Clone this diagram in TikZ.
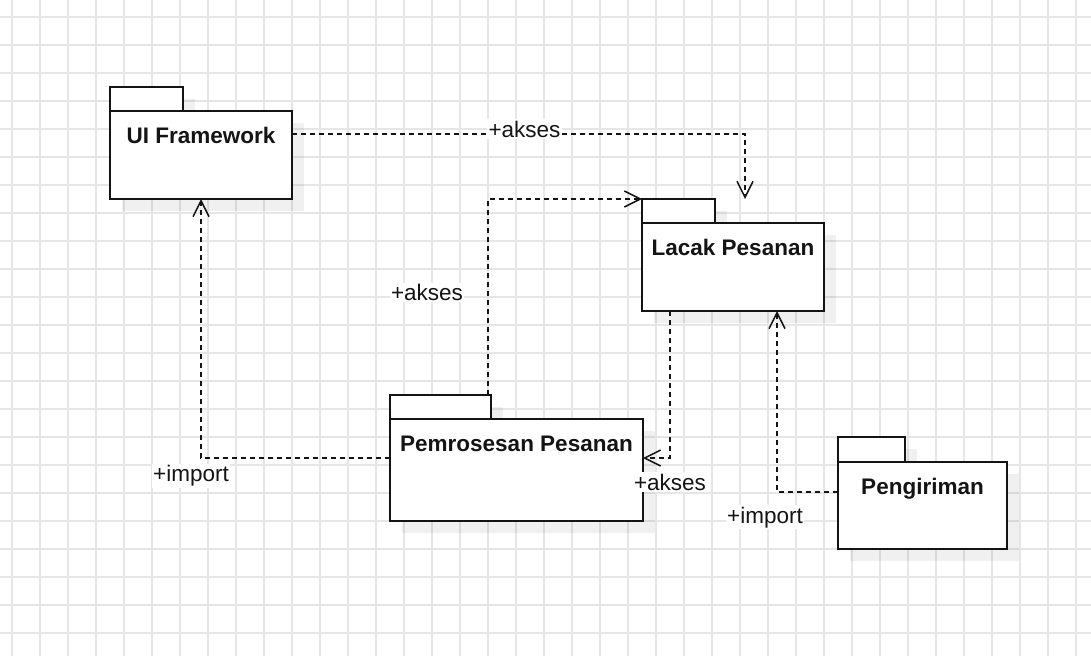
\documentclass[tikz,border=0pt]{standalone}
\usepackage{fontspec}
\setmainfont{Liberation Sans}
\usetikzlibrary{arrows.meta,shadows}
\definecolor{gridc}{RGB}{230,230,230}
\definecolor{inkc}{RGB}{20,20,20}
\tikzset{
  gridline/.style={draw=gridc, line width=1.6pt},
  pkgshadow/.style={drop shadow={shadow xshift=12pt, shadow yshift=-12pt, fill=black, opacity=0.06}},
  pkgtab/.style={draw=inkc, fill=white, line width=2pt, outer sep=0pt, inner sep=0pt, rectangle, pkgshadow},
  pkgbody/.style={draw=inkc, fill=white, line width=2pt, outer sep=0pt, inner sep=0pt, rectangle, pkgshadow},
  pkgtitle/.style={anchor=base, inner sep=0pt, text=inkc, font=\bfseries\fontsize{22.5}{27}\selectfont},
  lbl/.style={anchor=base, fill=white, inner sep=1.5pt, text=inkc, font=\fontsize{22.5}{27}\selectfont},
  dep/.style={draw=inkc, line width=1.5pt, dash pattern=on 5pt off 4pt, -{Straight Barb[length=16pt, width=16pt]}}
}
\begin{document}
\begin{tikzpicture}[x=1pt, y=-1pt]
\useasboundingbox (0,0) rectangle (1091,656);
\fill[white] (0,0) rectangle (1091,656);
\foreach \i in {0,...,38} \draw[gridline] (12+28*\i,0) -- (12+28*\i,656);
\foreach \j in {0,...,22} \draw[gridline] (0,17+28*\j) -- (1091,17+28*\j);

% UI Framework
\node[pkgtab, minimum width=73pt, minimum height=24pt, anchor=north west] (uitab) at (110,87) {};
\node[pkgbody, minimum width=182pt, minimum height=88pt, anchor=north west] (ui) at (uitab.south west) {};
\node[pkgtitle] (uititle) at ([yshift=-32pt]ui.north) {UI Framework};

% Lacak Pesanan
\node[pkgtab, minimum width=73pt, minimum height=24pt, anchor=north west] (lacaktab) at (642,199) {};
\node[pkgbody, minimum width=182pt, minimum height=88pt, anchor=north west] (lacak) at (lacaktab.south west) {};
\node[pkgtitle] (lacaktitle) at ([yshift=-32pt]lacak.north) {Lacak Pesanan};

% Pemrosesan Pesanan
\node[pkgtab, minimum width=101pt, minimum height=24pt, anchor=north west] (pemtab) at (390,395) {};
\node[pkgbody, minimum width=253pt, minimum height=102pt, anchor=north west] (pem) at (pemtab.south west) {};
\node[pkgtitle] (pemtitle) at ([yshift=-32pt]pem.north) {Pemrosesan Pesanan};

% Pengiriman
\node[pkgtab, minimum width=67pt, minimum height=25pt, anchor=north west] (pengtab) at (838,437) {};
\node[pkgbody, minimum width=169pt, minimum height=87pt, anchor=north west] (peng) at (pengtab.south west) {};
\node[pkgtitle] (pengtitle) at ([yshift=-32pt]peng.north) {Pengiriman};

% connectors
\draw[dep] ([yshift=-23pt]ui.north east) -| ([xshift=12pt]lacak.north |- lacaktab.north)
  node[lbl, pos=0.2566, yshift=-3pt] (l1) {+akses};
\draw[dep] ([xshift=-3pt]pemtab.north east) |- (lacaktab.north west)
  node[lbl, pos=0.2406, xshift=-61pt] (l2) {+akses};
\draw[dep] ([xshift=-63pt]lacak.south) |- ([yshift=12pt]pem.east)
  node[lbl, pos=0.5, yshift=-32pt] (l3) {+akses};
\draw[dep] ([yshift=12pt]pem.west) -| (ui.south)
  node[lbl, pos=0.5, xshift=-10pt, yshift=-23.7pt] (l4) {+import};
\draw[dep] ([yshift=13.5pt]peng.west) -| ([xshift=44pt]lacak.south)
  node[lbl, pos=0.5, xshift=-12pt, yshift=-31pt] (l5) {+import};
\end{tikzpicture}
\end{document}
